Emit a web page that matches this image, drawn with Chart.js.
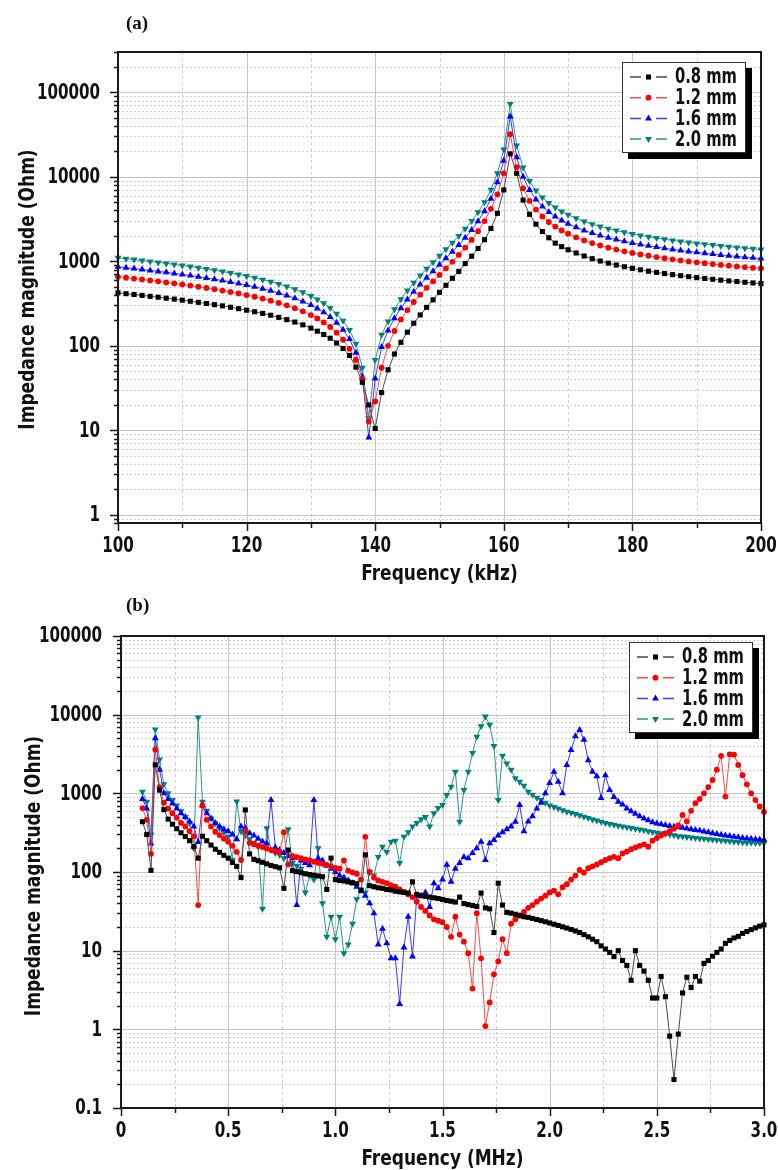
<!DOCTYPE html>
<html>
<head>
<meta charset="utf-8">
<title>Impedance magnitude vs frequency</title>
<script src="https://cdn.jsdelivr.net/npm/chart.js@4.4.1/dist/chart.umd.min.js"></script>
<style>
  body { margin: 0; background: #fff; }
  .panel { position: absolute; left: 0; width: 778px; height: 585px; }
  .tag { position: absolute; font: bold 19px "Liberation Serif", "Times New Roman", serif; line-height: 1; color: #111; }
</style>
</head>
<body>
<div class="panel" style="top:0"><canvas id="chartA" width="778" height="585"></canvas></div>
<div class="panel" style="top:585px"><canvas id="chartB" width="778" height="585"></canvas></div>
<div class="tag" style="left:126px;top:13px">(a)</div>
<div class="tag" style="left:126px;top:595px">(b)</div>
<script>
const SERIES_NAMES = ["0.8 mm", "1.2 mm", "1.6 mm", "2.0 mm"];

// (a) frequency in kHz
const FREQ_A = [
  100, 101.25, 102.5, 103.75, 105, 106.25, 107.5, 108.75, 110, 111.25, 112.5, 113.75,
  115, 116.25, 117.5, 118.75, 120, 121.25, 122.5, 123.75, 125, 126.25, 127.5, 128.75,
  130, 131, 132, 133, 134, 135, 136, 137, 138, 139, 140, 141, 142, 143, 144, 145, 146, 147,
  148, 149, 150, 151, 152, 153, 154, 155, 156, 157, 158, 159, 160, 161, 162, 163, 164, 165,
  166, 167, 168, 169, 170,
  171.25, 172.5, 173.75, 175, 176.25, 177.5, 178.75, 180, 181.25, 182.5, 183.75, 185,
  186.25, 187.5, 188.75, 190, 191.25, 192.5, 193.75, 195, 196.25, 197.5, 198.75, 200,
];
const A_08 = [
  424, 414, 405, 395, 385, 376, 366, 357, 347, 337, 327, 317,
  307, 297, 286, 275, 264, 253, 242, 230, 217, 204, 191, 177,
  162, 149, 136, 123, 108, 93, 77, 56, 37, 20, 10.5, 28, 52, 80, 110, 145, 185, 232,
  285, 350, 430, 520, 630, 760, 940, 1150, 1420, 1800, 2450, 3700, 7000, 18700, 11000, 5300, 3600, 2750,
  2250, 1900, 1640, 1490, 1370,
  1255, 1155, 1074, 1008, 951, 904, 862, 826, 794, 765, 739, 716,
  696, 676, 658, 642, 627, 613, 599, 587, 576, 565, 554, 545,
];
const A_12 = [
  656, 641, 625, 610, 594, 579, 563, 548, 532, 516, 500, 484,
  468, 451, 434, 417, 399, 381, 362, 342, 322, 301, 279, 256,
  231, 211, 189, 167, 143, 118, 92, 68, 40, 12.7, 22, 55, 100, 150, 205, 265, 330, 403,
  485, 580, 690, 825, 985, 1190, 1450, 1790, 2270, 2990, 4180, 6200, 11000, 32000, 13000, 7300, 5200, 4100,
  3400, 2920, 2580, 2320, 2120,
  1922, 1768, 1642, 1539, 1452, 1377, 1313, 1257, 1207, 1163, 1123, 1087,
  1055, 1025, 997, 972, 949, 927, 907, 888, 870, 854, 838, 823,
];
const A_16 = [
  861, 841, 821, 800, 780, 760, 740, 719, 699, 678, 657, 636,
  614, 592, 570, 547, 523, 499, 475, 449, 422, 395, 366, 335,
  304, 277, 249, 219, 188, 155, 120, 83, 43, 8.2, 41, 97, 152, 212, 279, 353, 436, 531,
  639, 764, 911, 1086, 1299, 1564, 1904, 2354, 2983, 3924, 5489, 8600, 15500, 51700, 17000, 10000, 6967, 5404,
  4462, 3834, 3384, 3046, 2782,
  2523, 2320, 2156, 2020, 1905, 1808, 1723, 1650, 1584, 1526, 1474, 1427,
  1384, 1345, 1309, 1276, 1245, 1217, 1190, 1166, 1142, 1120, 1100, 1080,
];
const A_20 = [
  1100, 1074, 1048, 1023, 997, 971, 945, 919, 893, 866, 839, 812,
  784, 756, 728, 699, 669, 638, 606, 574, 540, 504, 467, 429,
  388, 354, 318, 280, 240, 198, 154, 106, 55, 14, 68, 135, 194, 271, 356, 451, 557, 678,
  816, 976, 1164, 1388, 1660, 1999, 2432, 3008, 3811, 5013, 7012, 11005, 21000, 72500, 23500, 12894, 8901, 6903,
  5701, 4899, 4324, 3891, 3554,
  3224, 2964, 2754, 2580, 2434, 2310, 2202, 2107, 2024, 1950, 1883, 1823,
  1768, 1718, 1673, 1630, 1591, 1555, 1521, 1489, 1459, 1431, 1405, 1380,
];

// (b) frequency in MHz
const FREQ_B = [
  0.10, 0.12, 0.14, 0.16, 0.18, 0.20, 0.22, 0.24, 0.26, 0.28,
  0.30, 0.32, 0.34, 0.36, 0.38, 0.40, 0.42, 0.44, 0.46, 0.48,
  0.50, 0.52, 0.54, 0.56, 0.58, 0.60, 0.62, 0.64, 0.66, 0.68,
  0.70, 0.72, 0.74, 0.76, 0.78, 0.80, 0.82, 0.84, 0.86, 0.88,
  0.90, 0.92, 0.94, 0.96, 0.98, 1.00, 1.02, 1.04, 1.06, 1.08,
  1.10, 1.12, 1.14, 1.16, 1.18, 1.20, 1.22, 1.24, 1.26, 1.28,
  1.30, 1.32, 1.34, 1.36, 1.38, 1.40, 1.42, 1.44, 1.46, 1.48,
  1.50, 1.52, 1.54, 1.56, 1.58, 1.60, 1.62, 1.64, 1.66, 1.68,
  1.70, 1.72, 1.74, 1.76, 1.78, 1.80, 1.82, 1.84, 1.86, 1.88,
  1.90, 1.92, 1.94, 1.96, 1.98, 2.00, 2.02, 2.04, 2.06, 2.08,
  2.10, 2.12, 2.14, 2.16, 2.18, 2.20, 2.22, 2.24, 2.26, 2.28,
  2.30, 2.32, 2.34, 2.36, 2.38, 2.40, 2.42, 2.44, 2.46, 2.48,
  2.50, 2.52, 2.54, 2.56, 2.58, 2.60, 2.62, 2.64, 2.66, 2.68,
  2.70, 2.72, 2.74, 2.76, 2.78, 2.80, 2.82, 2.84, 2.86, 2.88,
  2.90, 2.92, 2.94, 2.96, 2.98, 3.00,
];
const B_08 = [
  436, 300, 105, 2300, 1100, 620, 470, 405, 355, 315,
  282, 250, 210, 150, 285, 250, 220, 195, 178, 163,
  150, 132, 118, 85, 615, 170, 145, 139, 133, 127,
  121, 117, 113, 62, 190, 104, 101, 98, 95, 93,
  91, 89, 87, 60, 150, 80, 78, 77, 75, 73,
  71, 58, 165, 67, 65, 63, 62, 60, 59, 57,
  56, 55, 54, 75, 52, 50, 49, 48, 47, 46,
  44.7, 43.5, 42.5, 41.5, 48, 39.7, 38.5, 37.5, 36.5, 54,
  35, 34, 17, 72, 38, 30.7, 30, 29, 28, 27,
  26.5, 25.7, 24.9, 24.1, 23.3, 22.5, 21.7, 20.9, 20.1, 19.4,
  18.6, 17.8, 17, 16, 15, 14, 13, 11.5, 10.5, 9.5,
  8.4, 10, 7.5, 6.5, 4.2, 10, 6.5, 5.5, 4.2, 2.5,
  2.5, 4.7, 2.6, 0.82, 0.23, 0.87, 2.9, 4.6, 3.4, 4.7,
  4.1, 6.9, 7.5, 8.5, 9.5, 10.5, 12.4, 13.5, 14.5, 15.2,
  16.6, 17.5, 18.5, 19.5, 20.5, 21.3,
];
const B_12 = [
  650, 460, 170, 3600, 1200, 760, 640, 560, 490, 420,
  380, 330, 285, 38, 700, 460, 380, 325, 295, 265,
  243, 215, 180, 142, 330, 235, 225, 216, 208, 199,
  191, 184, 178, 320, 125, 160, 155, 150, 145, 140,
  135, 131, 127, 123, 118, 113, 110, 140, 104, 99,
  95, 80, 280, 100, 85, 78, 75, 72, 68, 65,
  60, 56, 52, 48, 42, 36, 32, 28, 25, 24,
  23, 20, 15, 27, 16, 13, 9.3, 3.3, 30, 8,
  1.1, 2.2, 5, 7.3, 14, 9.3, 22, 25, 28, 31,
  35, 38, 42, 46, 50, 55, 58, 52, 64, 70,
  80, 90, 106, 98, 112, 118, 125, 133, 142, 150,
  156, 150, 172, 182, 195, 205, 215, 225, 210, 250,
  270, 290, 310, 330, 355, 390, 530, 440, 600, 750,
  850, 1000, 1200, 1480, 2000, 3000, 910, 3130, 3100, 2300,
  1700, 1300, 1000, 820, 680, 580,
];
const B_16 = [
  850, 640, 230, 5000, 2000, 1000, 850, 740, 640, 560,
  500, 440, 380, 240, 700, 560, 480, 420, 380, 350,
  330, 300, 260, 380, 360, 310, 290, 265, 245, 230,
  820, 205, 190, 175, 160, 150, 38, 140, 130, 122,
  820, 150, 140, 120, 110, 100, 90, 85, 78, 72,
  65, 58, 50, 40, 30, 12, 19, 12.4, 8, 8,
  2.1, 11, 27, 8.4, 49, 50, 55, 36, 72, 62,
  80, 124, 75, 110, 130, 155, 150, 175, 200, 243,
  142, 232, 255, 290, 320, 350, 380, 435, 710, 330,
  440, 510, 640, 760, 1000, 1350, 1880, 1400, 1000, 2290,
  3560, 5300, 6380, 4800, 2630, 1880, 1650, 870, 1700, 1100,
  900, 780, 720, 640, 590, 550, 510, 480, 455, 430,
  415, 405, 395, 385, 377, 370, 364, 358, 350, 343,
  336, 328, 320, 312, 305, 298, 292, 286, 281, 276,
  271, 267, 264, 261, 259, 257,
];
const B_20 = [
  1050, 780, 300, 6500, 2700, 1300, 1000, 820, 700, 590,
  500, 420, 200, 9200, 780, 600, 480, 415, 360, 320,
  280, 142, 790, 330, 290, 260, 235, 210, 34, 360,
  190, 175, 165, 150, 350, 130, 120, 110, 55, 90,
  80, 200, 40, 15, 27, 14, 27, 9.3, 12, 22,
  45, 60, 55, 100, 90, 155, 210, 180, 243, 250,
  130, 280, 320, 380, 420, 470, 500, 380, 560, 650,
  710, 950, 1215, 1880, 435, 1100, 1880, 3250, 5250, 7100,
  9450, 7450, 4000, 820, 3000, 2400, 1990, 1550, 1400, 1250,
  1050, 960, 880, 820, 760, 700, 670, 640, 610, 585,
  565, 545, 525, 505, 485, 465, 450, 435, 420, 408,
  398, 388, 379, 370, 362, 354, 346, 339, 330, 322,
  316, 311, 305, 300, 293, 285, 282, 278, 274, 270,
  267, 264, 261, 258, 255, 252, 249, 246, 243, 240,
  238, 236, 235, 234, 233, 232,
];

// tick labels
const X_MAJOR_A = [100, 120, 140, 160, 180, 200];
const X_LABELS_A = ["100", "120", "140", "160", "180", "200"];
const X_MAJOR_B = [0, 0.5, 1, 1.5, 2, 2.5, 3];
const X_LABELS_B = ["0", "0.5", "1.0", "1.5", "2.0", "2.5", "3.0"];
const Y_DECADES_A = [1, 10, 100, 1000, 10000, 100000];
const Y_LABELS_A = ["1", "10", "100", "1000", "10000", "100000"];
const Y_DECADES_B = [0.1, 1, 10, 100, 1000, 10000, 100000];
const Y_LABELS_B = ["0.1", "1", "10", "100", "1000", "10000", "100000"];

// only a condensed face is installed, so the text is squeezed further when drawn
const FONT = "'DejaVu Sans Condensed', 'DejaVu Sans', sans-serif";
const TEXT_COLOR = "#111";
const MARKER_COLORS = ["#000000", "#ff0000", "#0000ff", "#00807a"];
const LINE_COLORS = ["#4a4a4a", "#ff4a4a", "#3a3aff", "#2f948c"];
const POINT_STYLES = ["rect", "circle", "triangle", "triangle"];
const POINT_ROTATIONS = [0, 0, 0, 180];
const POINT_RADII = [3.6, 2.9, 4, 4];

function near(a, b) {
  return Math.abs(a - b) < 1e-6 * Math.max(1, Math.abs(b));
}

function linearTicks(min, max, step) {
  const ticks = [];
  for (let i = 0; min + i * step <= max + 1e-9; i++) {
    ticks.push({ value: Number((min + i * step).toFixed(6)) });
  }
  return ticks;
}

function logTicks(min, max) {
  const ticks = [];
  for (let d = Math.floor(Math.log10(min)); d <= Math.ceil(Math.log10(max)); d++) {
    for (let k = 1; k <= 9; k++) {
      const v = Number((k * Math.pow(10, d)).toPrecision(6));
      if (v >= min - 1e-9 && v <= max + 1e-9) ticks.push({ value: v });
    }
  }
  return ticks;
}

function labelFor(value, values, labels) {
  const i = values.findIndex((v) => near(value, v));
  return i < 0 ? "" : labels[i];
}

function drawNarrow(ctx, text, x, y, align, rotation, squeeze, baseline) {
  ctx.save();
  ctx.translate(x, y);
  if (rotation) ctx.rotate(rotation);
  ctx.scale(squeeze, 1);
  ctx.textAlign = align;
  ctx.textBaseline = baseline || "middle";
  ctx.fillText(text, 0, 0);
  ctx.restore();
}

function drawMarker(ctx, i, x, y) {
  const r = POINT_RADII[i];
  ctx.fillStyle = MARKER_COLORS[i];
  ctx.beginPath();
  if (POINT_STYLES[i] === "rect") {
    const s = r * Math.SQRT1_2;
    ctx.rect(x - s, y - s, 2 * s, 2 * s);
  } else if (POINT_STYLES[i] === "circle") {
    ctx.arc(x, y, r, 0, Math.PI * 2);
  } else {
    const dir = POINT_ROTATIONS[i] ? -1 : 1;
    ctx.moveTo(x, y - dir * r);
    ctx.lineTo(x + r * 0.866, y + dir * r * 0.5);
    ctx.lineTo(x - r * 0.866, y + dir * r * 0.5);
    ctx.closePath();
  }
  ctx.fill();
}

// grid, frame, tick marks, axis text and the boxed legend
const framePlugin = {
  id: "frame",
  beforeDatasetsDraw(chart, args, opts) {
    const { ctx, chartArea: area } = chart;
    const xs = chart.scales.x;
    const ys = chart.scales.y;
    ctx.save();
    ctx.lineWidth = 1;
    xs.ticks.forEach((t) => {
      const major = opts.xMajor.some((v) => near(t.value, v));
      const px = Math.round(xs.getPixelForValue(t.value)) + 0.5;
      ctx.strokeStyle = major ? "#c6c6c6" : "#cdcdcd";
      ctx.setLineDash(major ? [] : [3, 3]);
      ctx.beginPath();
      ctx.moveTo(px, area.top);
      ctx.lineTo(px, area.bottom);
      ctx.stroke();
    });
    ys.ticks.forEach((t) => {
      const major = opts.yMajor.some((v) => near(t.value, v));
      const py = Math.round(ys.getPixelForValue(t.value)) + 0.5;
      ctx.strokeStyle = major ? "#c6c6c6" : "#d0d0d0";
      ctx.setLineDash(major ? [] : [2, 2]);
      ctx.beginPath();
      ctx.moveTo(area.left, py);
      ctx.lineTo(area.right, py);
      ctx.stroke();
    });
    ctx.restore();
  },
  afterDraw(chart, args, opts) {
    const { ctx, chartArea: area } = chart;
    const xs = chart.scales.x;
    const ys = chart.scales.y;
    ctx.save();
    ctx.strokeStyle = "#1a1a1a";
    ctx.lineWidth = 2;
    ctx.strokeRect(area.left, area.top, area.right - area.left, area.bottom - area.top);
    ctx.lineWidth = 1.5;
    ctx.beginPath();
    xs.ticks.forEach((t) => {
      const major = opts.xMajor.some((v) => near(t.value, v));
      const px = Math.round(xs.getPixelForValue(t.value)) + 0.5;
      ctx.moveTo(px, area.bottom);
      ctx.lineTo(px, area.bottom + (major ? 8 : 5));
    });
    ys.ticks.forEach((t) => {
      const major = opts.yMajor.some((v) => near(t.value, v));
      const py = Math.round(ys.getPixelForValue(t.value)) + 0.5;
      ctx.moveTo(area.left, py);
      ctx.lineTo(area.left - (major ? 8 : 4), py);
    });
    ctx.stroke();

    // tick labels and axis titles
    ctx.fillStyle = TEXT_COLOR;
    ctx.font = "bold 21px " + FONT;
    xs.ticks.forEach((t) => {
      const label = labelFor(t.value, opts.xMajor, opts.xLabels);
      if (label) drawNarrow(ctx, label, xs.getPixelForValue(t.value), area.bottom + 23.5, "center", 0, 0.8);
    });
    ys.ticks.forEach((t) => {
      const label = labelFor(t.value, opts.yMajor, opts.yLabels);
      if (label) drawNarrow(ctx, label, area.left - opts.yLabelGap, ys.getPixelForValue(t.value) + 1, "right", 0, 0.8);
    });
    ctx.font = "bold 22px " + FONT;
    drawNarrow(ctx, opts.xTitle, (area.left + area.right) / 2, area.bottom + opts.xTitleDrop, "center", 0, 0.86, "alphabetic");
    drawNarrow(ctx, "Impedance magnitude (Ohm)", opts.yTitleX, (area.top + area.bottom) / 2 + opts.yTitleShift, "center", -Math.PI / 2, 0.86);

    // legend box with drop shadow
    const w = 124;
    const h = 91;
    const left = area.right - opts.legendRight;
    const top = area.top + opts.legendTop;
    ctx.fillStyle = "#000";
    ctx.fillRect(left + 6, top + 6, w, h);
    ctx.fillStyle = "#fff";
    ctx.fillRect(left, top, w, h);
    ctx.strokeStyle = "#333";
    ctx.lineWidth = 1;
    ctx.strokeRect(left + 0.5, top + 0.5, w - 1, h - 1);
    ctx.font = "bold 21px " + FONT;
    SERIES_NAMES.forEach((name, i) => {
      const y = top + 15 + i * 20.7;
      ctx.strokeStyle = LINE_COLORS[i];
      ctx.lineWidth = 1.5;
      ctx.beginPath();
      ctx.moveTo(left + 8, y);
      ctx.lineTo(left + 19, y);
      ctx.moveTo(left + 34, y);
      ctx.lineTo(left + 45, y);
      ctx.stroke();
      drawMarker(ctx, i, left + 26.5, y);
      ctx.fillStyle = TEXT_COLOR;
      drawNarrow(ctx, name, left + 53, y + 1, "left", 0, 0.78);
    });
    ctx.restore();
  },
};

function renderPanel(canvasId, cfg) {
  return new Chart(document.getElementById(canvasId), {
    type: "line",
    data: {
      datasets: cfg.series.map((values, i) => ({
        label: SERIES_NAMES[i],
        data: cfg.freq.map((f, j) => ({ x: f, y: values[j] })),
        borderColor: LINE_COLORS[i],
        borderWidth: 1,
        pointBackgroundColor: MARKER_COLORS[i],
        pointBorderColor: MARKER_COLORS[i],
        pointBorderWidth: 0,
        pointStyle: POINT_STYLES[i],
        pointRotation: POINT_ROTATIONS[i],
        pointRadius: POINT_RADII[i],
        tension: 0,
        fill: false,
        clip: false,
      })),
    },
    options: {
      responsive: false,
      animation: false,
      events: [],
      layout: { padding: cfg.padding },
      scales: {
        x: {
          type: "linear",
          min: cfg.xMin,
          max: cfg.xMax,
          afterBuildTicks: (scale) => {
            scale.ticks = linearTicks(cfg.xMin, cfg.xMax, cfg.xStep);
          },
          afterFit: (scale) => {
            scale.height = cfg.xHeight;
          },
          grid: { display: false, drawTicks: false },
          border: { display: false },
          ticks: { display: false },
          title: { display: false },
        },
        y: {
          type: "logarithmic",
          min: cfg.yMin,
          max: cfg.yMax,
          afterBuildTicks: (scale) => {
            scale.ticks = logTicks(cfg.yMin, cfg.yMax);
          },
          afterFit: (scale) => {
            scale.width = cfg.yWidth;
          },
          grid: { display: false, drawTicks: false },
          border: { display: false },
          ticks: { display: false },
          title: { display: false },
        },
      },
      plugins: {
        legend: { display: false },
        tooltip: { enabled: false },
        frame: {
          xMajor: cfg.xMajor,
          xLabels: cfg.xLabels,
          yMajor: cfg.yDecades,
          yLabels: cfg.yLabels,
          xTitle: cfg.xTitle,
          xTitleDrop: cfg.xTitleDrop,
          yLabelGap: cfg.yLabelGap,
          yTitleX: cfg.yTitleX,
          yTitleShift: cfg.yTitleShift,
          legendRight: cfg.legendRight,
          legendTop: cfg.legendTop,
        },
      },
    },
    plugins: [framePlugin],
  });
}

renderPanel("chartA", {
  freq: FREQ_A,
  series: [A_08, A_12, A_16, A_20],
  xMin: 100,
  xMax: 200,
  xStep: 10,
  xMajor: X_MAJOR_A,
  xLabels: X_LABELS_A,
  xTitle: "Frequency (kHz)",
  xTitleDrop: 57,
  yMin: 0.8,
  yMax: 300000,
  yDecades: Y_DECADES_A,
  yLabels: Y_LABELS_A,
  padding: { top: 52, right: 17, left: 0, bottom: 0 },
  xHeight: 62,
  yWidth: 118,
  yLabelGap: 18,
  yTitleX: 28,
  yTitleShift: 2,
  legendRight: 139,
  legendTop: 10,
});

renderPanel("chartB", {
  freq: FREQ_B,
  series: [B_08, B_12, B_16, B_20],
  xMin: 0,
  xMax: 3,
  xStep: 0.25,
  xMajor: X_MAJOR_B,
  xLabels: X_LABELS_B,
  xTitle: "Frequency (MHz)",
  xTitleDrop: 57,
  yMin: 0.1,
  yMax: 100000,
  yDecades: Y_DECADES_B,
  yLabels: Y_LABELS_B,
  padding: { top: 51, right: 14, left: 0, bottom: 0 },
  xHeight: 62,
  yWidth: 121,
  yLabelGap: 19,
  yTitleX: 34,
  yTitleShift: 4,
  legendRight: 135,
  legendTop: 6,
});
</script>
</body>
</html>
